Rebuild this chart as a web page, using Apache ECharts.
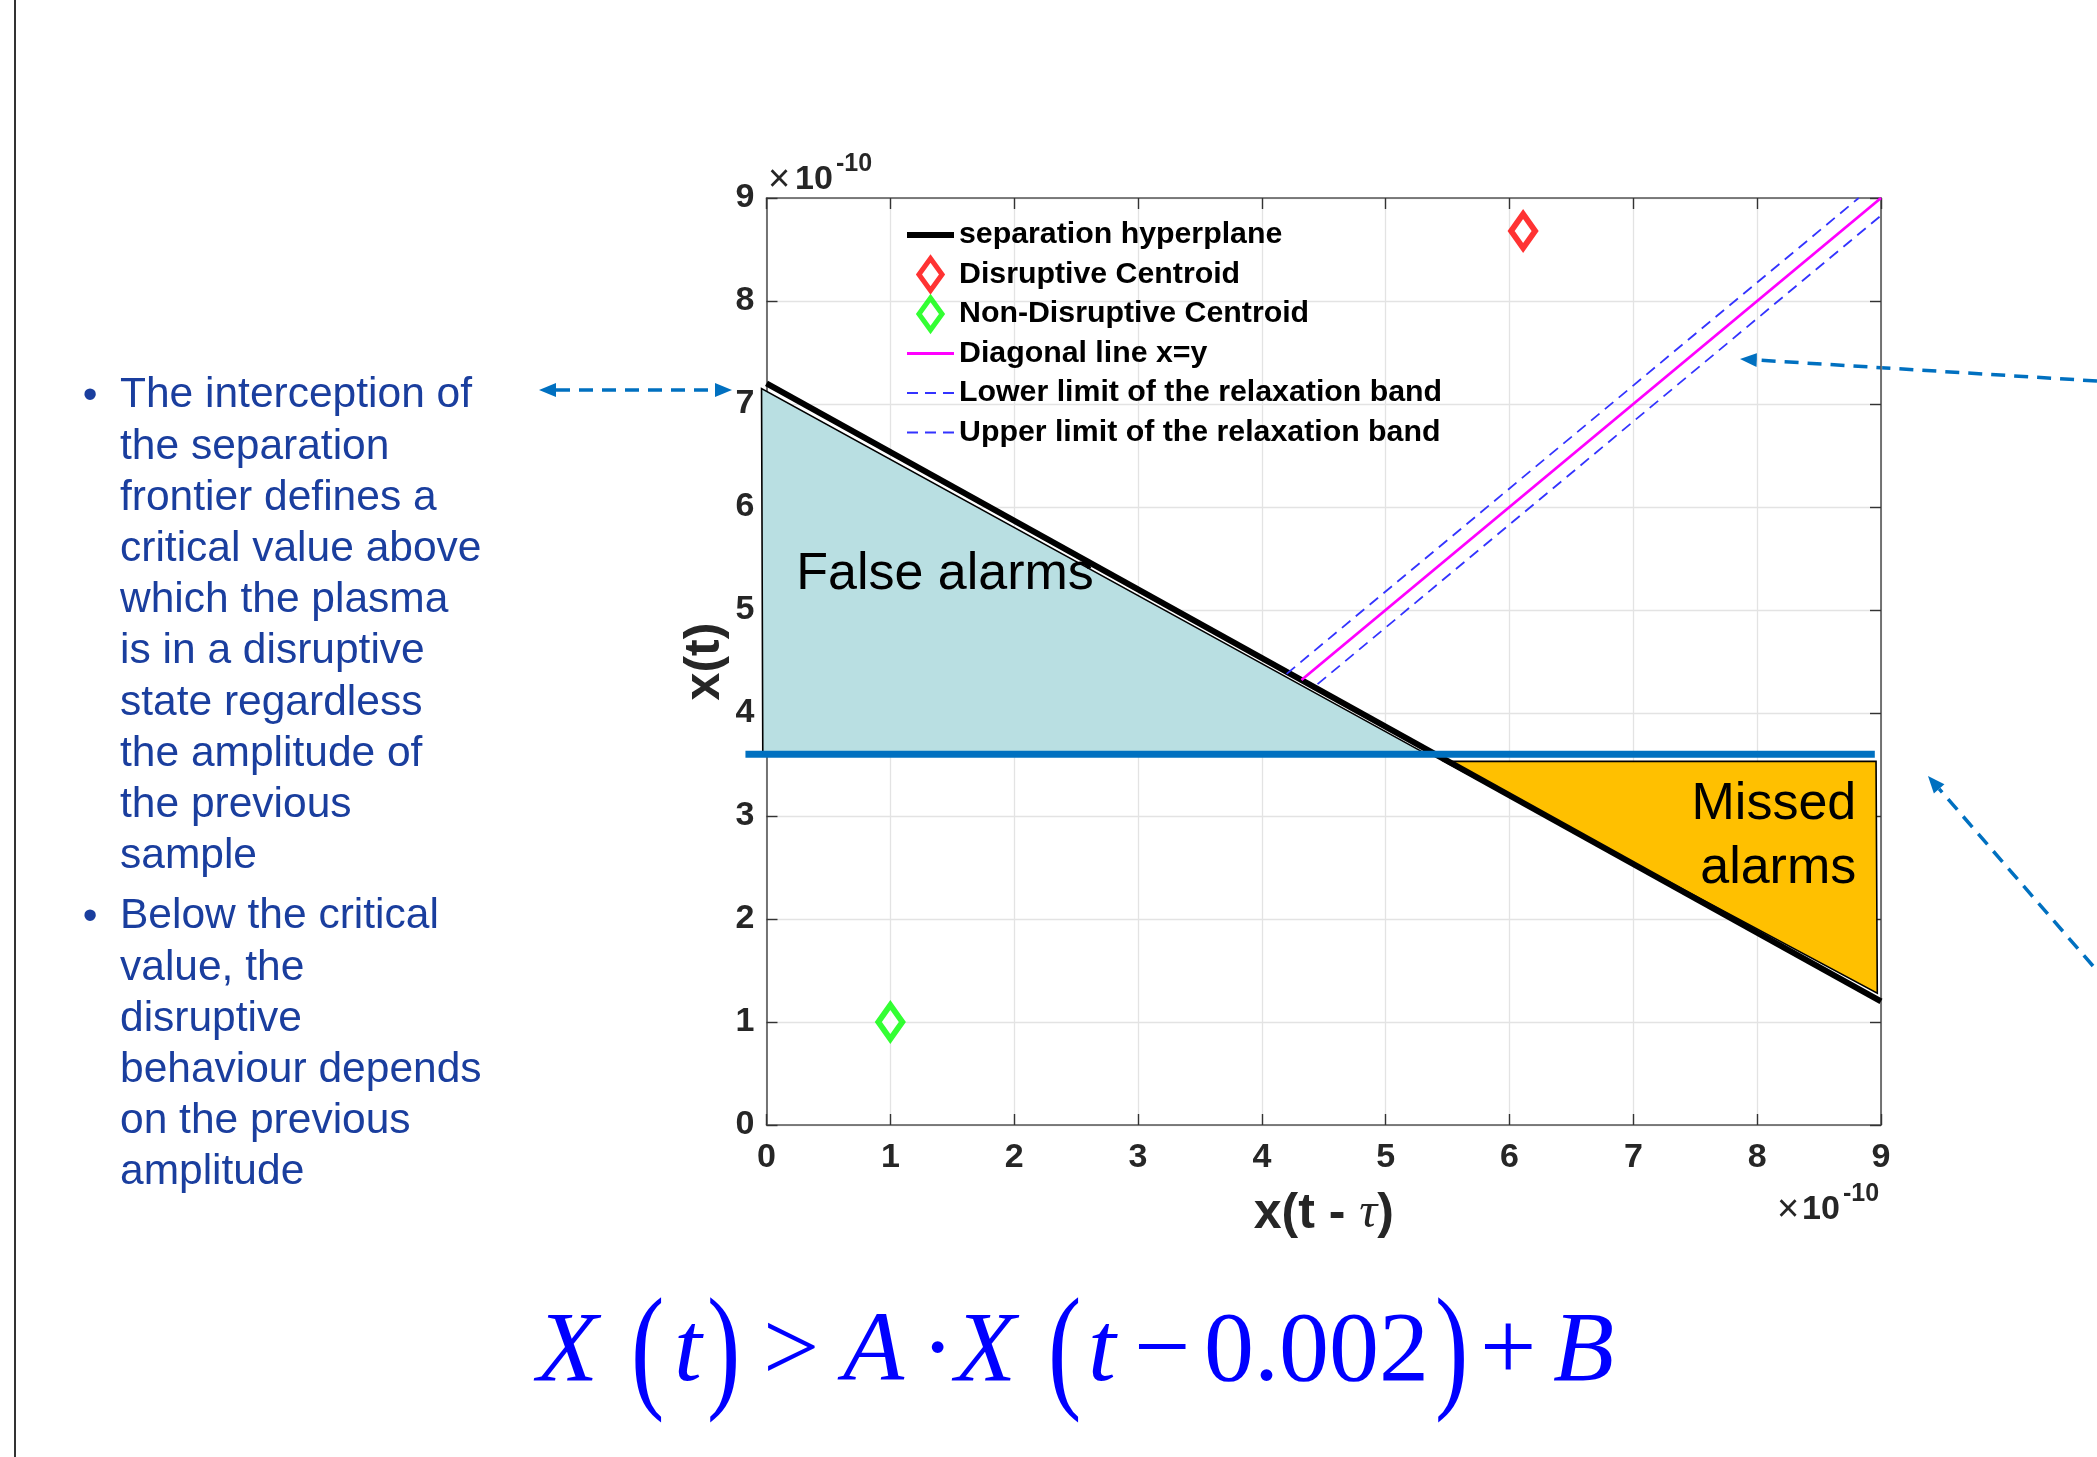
<!DOCTYPE html>
<html><head><meta charset="utf-8">
<script src="https://cdn.jsdelivr.net/npm/echarts@6/dist/echarts.min.js"></script>
<style>html,body{margin:0;padding:0;background:#fff}#c{width:2097px;height:1457px}</style>
</head><body><div id="c"></div>
<script>
// ---------------- data (units of 1e-10) ----------------
const axisMin = 0, axisMax = 9, axisStep = 1;
const hyperplaneX = [0, 9];
const hyperplaneY = [7.2, 1.2];
const criticalX = [-0.17, 8.95];
const criticalY = [3.6, 3.6];
const diagonalX = [4.32, 9];
const diagonalY = [4.32, 9];
const lowerBandX = [4.45, 9];
const lowerBandY = [4.28, 8.83];
const upperBandX = [4.2, 8.82];
const upperBandY = [4.38, 9];
const disruptiveCentroid = [6.11, 8.68];
const nonDisruptiveCentroid = [1.0, 1.0];
const falseAlarmX = [-0.04, -0.03, 5.30];
const falseAlarmY = [7.15, 3.62, 3.62];
const missedAlarmX = [5.47, 8.96, 8.97];
const missedAlarmY = [3.53, 3.53, 1.28];
const falseAlarmLabel = ['False alarms'];
const falseAlarmLabelPos = [0.24, 5.34];
const missedAlarmLabel = ['Missed', 'alarms'];
const missedAlarmLabelPos = [8.80, 2.80];
const legendNames = ['separation hyperplane', 'Disruptive Centroid', 'Non-Disruptive Centroid',
  'Diagonal line x=y', 'Lower limit of the relaxation band', 'Upper limit of the relaxation band'];
const bullet1Lines = ['The interception of', 'the separation', 'frontier defines a', 'critical value above',
  'which the plasma', 'is in a disruptive', 'state regardless', 'the amplitude of', 'the previous', 'sample'];
const bullet2Lines = ['Below the critical', 'value, the', 'disruptive', 'behaviour depends', 'on the previous', 'amplitude'];

// ---------------- helpers ----------------
const SANS = 'Liberation Sans, Arial, Helvetica, sans-serif';
const SERIF = 'Liberation Serif, Times New Roman, serif';
const pairs = (xs, ys) => xs.map((x, i) => [x, ys[i]]);

function polySeries(name, xs, ys, fill, labelLines, labelPos, align) {
  return {
    type: 'custom', name, silent: true, clip: false, z: 2,
    data: [0],
    encode: { x: -1, y: -1 },
    renderItem: (params, api) => {
      const pts = xs.map((x, i) => api.coord([x, ys[i]]));
      const lp = api.coord(labelPos);
      return {
        type: 'group',
        children: [
          { type: 'polygon', shape: { points: pts }, style: { fill, stroke: '#000', lineWidth: 1.6 } },
          { type: 'text', x: lp[0], y: lp[1], z2: 10,
            style: { text: labelLines.join('\n'), fill: '#000', font: '52px ' + SANS,
              lineHeight: 64, align: align, verticalAlign: 'middle' } }
        ]
      };
    }
  };
}

function segmentSeries(name, xs, ys, color, width, z) {
  return {
    type: 'custom', name, silent: true, clip: false, z: z,
    data: [0],
    encode: { x: -1, y: -1 },
    renderItem: (params, api) => {
      const a = api.coord([xs[0], ys[0]]), b = api.coord([xs[1], ys[1]]);
      return { type: 'line', shape: { x1: a[0], y1: a[1], x2: b[0], y2: b[1] },
        style: { stroke: color, lineWidth: width, lineCap: 'butt' } };
    }
  };
}

function arrow(tail, tip, doubleHead) {
  const color = '#0070C0', L = 17, W = 14;
  const dx = tip[0] - tail[0], dy = tip[1] - tail[1];
  const len = Math.hypot(dx, dy), ux = dx / len, uy = dy / len, nx = -uy, ny = ux;
  const head = (T, sx, sy) => ({
    type: 'polygon', silent: true,
    shape: { points: [T, [T[0] - sx * L + nx * W / 2, T[1] - sy * L + ny * W / 2],
      [T[0] - sx * L - nx * W / 2, T[1] - sy * L - ny * W / 2]] },
    style: { fill: color }
  });
  const a = doubleHead ? [tail[0] + ux * L, tail[1] + uy * L] : tail;
  const b = [tip[0] - ux * L, tip[1] - uy * L];
  const els = [
    { type: 'line', silent: true, shape: { x1: a[0], y1: a[1], x2: b[0], y2: b[1] },
      style: { stroke: color, lineWidth: 3.5, lineDash: [14, 9] } },
    head(tip, ux, uy)
  ];
  if (doubleHead) els.push(head(tail, -ux, -uy));
  return els;
}

// ---------------- chart ----------------
const chart = echarts.init(document.getElementById('c'), null, { renderer: 'canvas' });

const axisCommon = {
  type: 'value', min: axisMin, max: axisMax, interval: axisStep,
  axisLine: { show: true, onZero: false, lineStyle: { color: '#555', width: 1.6 } },
  axisTick: { show: true, inside: true, length: 11, lineStyle: { color: '#333', width: 1.4 } },
};
const labelStyle = { color: '#262626', fontFamily: SANS, fontWeight: 'bold', fontSize: 34 };

const eqColor = '#0000FF';
const eqPieces = [
  ['X', 537, true, 1], ['(', 631, false, 1.37], ['t', 674, true, 1], [')', 707, false, 1.37],
  ['>', 763, false, 1], ['A', 843, true, 1], ['\u00B7', 921, false, 1], ['X', 955, true, 1],
  ['(', 1048, false, 1.37], ['t', 1088, true, 1], ['\u2212', 1134, false, 1], ['0.002', 1204, false, 1],
  [')', 1435, false, 1.37], ['+', 1480, false, 1], ['B', 1553, true, 1]
];

const txtBlue = '#1A3E9E';
const graphics = [
  { type: 'line', silent: true, shape: { x1: 15, y1: 0, x2: 15, y2: 1457 }, style: { stroke: '#333', lineWidth: 2 } },
  { type: 'text', x: 90, y: 396, style: { text: '\u2022', fill: txtBlue, font: '42px ' + SANS, align: 'center', verticalAlign: 'middle' } },
  { type: 'text', x: 120, y: 370, style: { text: bullet1Lines.join('\n'), fill: txtBlue, font: '42.5px ' + SANS, lineHeight: 51.2, verticalAlign: 'top' } },
  { type: 'text', x: 90, y: 917, style: { text: '\u2022', fill: txtBlue, font: '42px ' + SANS, align: 'center', verticalAlign: 'middle' } },
  { type: 'text', x: 120, y: 891, style: { text: bullet2Lines.join('\n'), fill: txtBlue, font: '42.5px ' + SANS, lineHeight: 51.2, verticalAlign: 'top' } },
  // axis multipliers
  { type: 'text', x: 768, y: 181, style: { text: '\u00D7', fill: '#262626', font: '38px ' + SANS, verticalAlign: 'middle' } },
  { type: 'text', x: 795, y: 180, style: { text: '10', fill: '#262626', font: 'bold 34px ' + SANS, verticalAlign: 'middle' } },
  { type: 'text', x: 836, y: 164, style: { text: '-10', fill: '#262626', font: 'bold 25px ' + SANS, verticalAlign: 'middle' } },
  { type: 'text', x: 1777, y: 1211, style: { text: '\u00D7', fill: '#262626', font: '38px ' + SANS, verticalAlign: 'middle' } },
  { type: 'text', x: 1802, y: 1210, style: { text: '10', fill: '#262626', font: 'bold 34px ' + SANS, verticalAlign: 'middle' } },
  { type: 'text', x: 1843, y: 1194, style: { text: '-10', fill: '#262626', font: 'bold 25px ' + SANS, verticalAlign: 'middle' } },
  ...arrow([539, 390], [732, 390], true),
  ...arrow([2097, 381], [1740, 359], false),
  ...arrow([2093, 966], [1928, 776], false),
  ...eqPieces.map(([t, x, it, sy]) => ({
    type: 'text', x: x, y: sy > 1 ? 1357 : 1354, scaleY: sy, originX: 0, originY: 0,
    style: { text: t, fill: eqColor, font: (it ? 'italic ' : '') + '100px ' + SERIF, verticalAlign: 'middle' }
  }))
];

const bandDash = [11, 7];
const diamondIcon = 'path://M13,0L26,18L13,36L0,18Z';
const dashIcon = 'path://M0,0h11v1.8h-11zM18,0h11v1.8h-11zM36,0h11v1.8h-11z';
const option = {
  animation: false,
  backgroundColor: '#fff',
  grid: { left: 766.5, right: 216, top: 198, bottom: 332, outerBoundsMode: 'none', containLabel: false, show: false },
  xAxis: [
    Object.assign({}, axisCommon, {
      position: 'bottom',
      axisLabel: Object.assign({ margin: 16 }, labelStyle),
      splitLine: { show: true, lineStyle: { color: '#E3E3E3', width: 1.3 } },
      name: '{a|x(t - }{b|\u03C4}{a|)}', nameLocation: 'middle', nameGap: 64, nameMoveOverlap: false,
      nameTextStyle: { rich: {
        a: { fontFamily: SANS, fontWeight: 'bold', fontSize: 50, color: '#262626' },
        b: { fontFamily: SERIF, fontStyle: 'italic', fontSize: 50, color: '#262626' } } }
    }),
    Object.assign({}, axisCommon, { position: 'top', axisLabel: { show: false }, splitLine: { show: false } })
  ],
  yAxis: [
    Object.assign({}, axisCommon, {
      position: 'left',
      axisLabel: Object.assign({ margin: 12 }, labelStyle),
      splitLine: { show: true, lineStyle: { color: '#E3E3E3', width: 1.3 } },
      name: 'x(t)', nameLocation: 'middle', nameRotate: 90, nameGap: 36, nameMoveOverlap: false,
      nameTextStyle: { fontFamily: SANS, fontWeight: 'bold', fontSize: 50, color: '#262626' }
    }),
    Object.assign({}, axisCommon, { position: 'right', axisLabel: { show: false }, splitLine: { show: false } })
  ],
  legend: {
    orient: 'vertical', left: 907, top: 216, padding: 0, itemWidth: 47, itemHeight: 32, itemGap: 1.5,
    selectedMode: false, backgroundColor: 'transparent',
    textStyle: { fontFamily: SANS, fontWeight: 'bold', fontSize: 30.3, color: '#000', lineHeight: 38 },
    data: [
      { name: legendNames[0], icon: 'path://M0,0h47v6h-47z', itemStyle: { color: '#000', borderWidth: 0 } },
      { name: legendNames[1], icon: diamondIcon, itemStyle: { color: '#fff', borderColor: '#FF0000', borderWidth: 5 } },
      { name: legendNames[2], icon: diamondIcon, itemStyle: { color: '#fff', borderColor: '#00FF00', borderWidth: 5 } },
      { name: legendNames[3], icon: 'path://M0,0h47v2.8h-47z', itemStyle: { color: '#FF00FF', borderWidth: 0 } },
      { name: legendNames[4], icon: dashIcon, itemStyle: { color: '#3333FF', borderWidth: 0 } },
      { name: legendNames[5], icon: dashIcon, itemStyle: { color: '#3333FF', borderWidth: 0 } }
    ]
  },
  graphic: graphics,
  series: [
    polySeries('False alarms region', falseAlarmX, falseAlarmY, '#B9DFE2', falseAlarmLabel, falseAlarmLabelPos, 'left'),
    polySeries('Missed alarms region', missedAlarmX, missedAlarmY, '#FFC000', missedAlarmLabel, missedAlarmLabelPos, 'right'),
    { type: 'line', name: legendNames[0], data: pairs(hyperplaneX, hyperplaneY), symbol: 'none', showSymbol: false, clip: false, z: 3,
      lineStyle: { color: '#000', width: 6 }, itemStyle: { color: '#000' } },
    segmentSeries('critical value', criticalX, criticalY, '#0070C0', 7, 4),
    { type: 'line', name: legendNames[3], data: pairs(diagonalX, diagonalY), symbol: 'none', showSymbol: false, clip: false, z: 5,
      lineStyle: { color: '#FF00FF', width: 2.8 }, itemStyle: { color: '#FF00FF' } },
    { type: 'line', name: legendNames[4], data: pairs(lowerBandX, lowerBandY), symbol: 'none', showSymbol: false, clip: false, z: 5,
      lineStyle: { color: '#3333FF', width: 1.8, type: bandDash }, itemStyle: { color: '#3333FF' } },
    { type: 'line', name: legendNames[5], data: pairs(upperBandX, upperBandY), symbol: 'none', showSymbol: false, clip: false, z: 5,
      lineStyle: { color: '#3333FF', width: 1.8, type: bandDash }, itemStyle: { color: '#3333FF' } },
    { type: 'scatter', name: legendNames[1], data: [disruptiveCentroid], symbol: 'diamond', symbolSize: [24, 34], z: 6,
      itemStyle: { color: '#fff', borderColor: '#FF0000', borderWidth: 6 } },
    { type: 'scatter', name: legendNames[2], data: [nonDisruptiveCentroid], symbol: 'diamond', symbolSize: [24, 34], z: 6,
      itemStyle: { color: '#fff', borderColor: '#00FF00', borderWidth: 6 } }
  ]
};
chart.setOption(option);
</script>
</body></html>
